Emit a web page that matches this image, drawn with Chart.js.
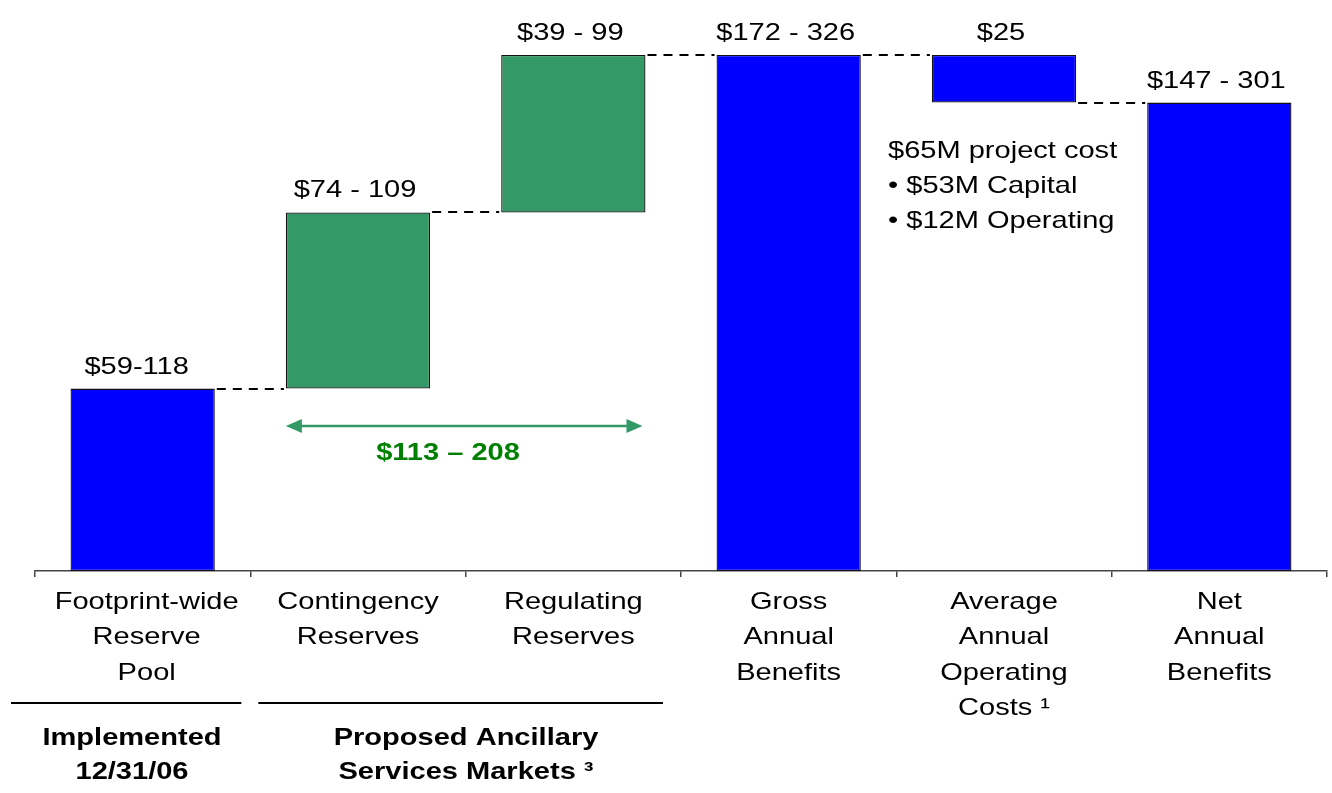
<!DOCTYPE html>
<html>
<head>
<meta charset="utf-8">
<script src="https://cdn.jsdelivr.net/npm/chart.js@4/dist/chart.umd.min.js"></script>
<style>
  html, body { margin: 0; padding: 0; background: #fff; }
  #wrap { width: 1332px; height: 793px; position: relative; }
</style>
</head>
<body>
<div id="wrap"><canvas id="chartBenefits"></canvas></div>
<script>
// ── DATA ─────────────────────────────────────
const categories = [
  ['Footprint-wide', 'Reserve', 'Pool'],
  ['Contingency', 'Reserves'],
  ['Regulating', 'Reserves'],
  ['Gross', 'Annual', 'Benefits'],
  ['Average', 'Annual', 'Operating', 'Costs \u00B9'],
  ['Net', 'Annual', 'Benefits']
];
const barStart = [0, 88, 173, 0, 226, 0];
const barEnd   = [88, 173, 249, 249, 249, 226];
const barLabels = ['$59-118', '$74 - 109', '$39 - 99', '$172 - 326', '$25', '$147 - 301'];
// level carried from each bar to the next one (dashed connectors)
const runningTotal = [88, 173, 249, 249, 226];
const groupLabels = [['Implemented', '12/31/06'], ['Proposed Ancillary', 'Services Markets \u00B3']];
const groupSpans = [[0, 0], [1, 2]];
const ancillaryRange = '$113 \u2013 208';
const costNotes = ['$65M project cost', '\u2022 $53M Capital', '\u2022 $12M Operating'];

const BLUE = '#0000ff';
const GREEN = '#339966';
const FONT = '"Liberation Sans", Arial, Helvetica, sans-serif';
const SX = 1.21; // source text is stretched horizontally

function stretchText(c, str, x, y, align) {
  c.save();
  c.translate(x, y);
  c.scale(SX, 1);
  c.textAlign = align || 'center';
  c.textBaseline = 'alphabetic';
  c.fillText(str, 0, 0);
  c.restore();
}

const annotations = {
  id: 'waterfall-extras',
  afterDatasetsDraw(chart) {
    const { ctx: c, scales: { x, y } } = chart;
    const bars = chart.getDatasetMeta(0).data;
    c.save();

    // dashed connectors
    c.strokeStyle = '#000';
    c.lineWidth = 2;
    c.setLineDash([9, 7]);
    runningTotal.forEach((v, i) => {
      const py = Math.round(y.getPixelForValue(v));
      c.beginPath();
      c.moveTo(bars[i].x + bars[i].width / 2 + 2, py);
      c.lineTo(bars[i + 1].x - bars[i + 1].width / 2 - 2, py);
      c.stroke();
    });
    c.setLineDash([]);

    // value labels above bars
    c.fillStyle = '#000';
    c.font = '24px ' + FONT;
    barLabels.forEach((t, i) => {
      const top = y.getPixelForValue(Math.max(barStart[i], barEnd[i]));
      stretchText(c, t, bars[i].x - (i === 0 ? 6 : 3), top - 15);
    });

    // category labels
    categories.forEach((lines, i) => {
      const cx = x.getPixelForValue(i) + (i === 0 ? 4 : 0);
      lines.forEach((t, k) => stretchText(c, t, cx, 609 + k * 35.3));
    });

    // group separators + labels
    const half = (x.getPixelForValue(1) - x.getPixelForValue(0)) / 2;
    c.lineWidth = 2;
    c.strokeStyle = '#000';
    groupSpans.forEach((g, i) => {
      const x1 = x.getPixelForValue(g[0]) - half + (i === 0 ? -24 : 8);
      const x2 = x.getPixelForValue(g[1]) + half - (i === 0 ? 9 : 18);
      c.beginPath();
      c.moveTo(x1, 703);
      c.lineTo(x2, 703);
      c.stroke();
      c.font = 'bold 24px ' + FONT;
      const cx = i === 0 ? 132 : 466;
      groupLabels[i].forEach((t, k) => stretchText(c, t, cx, 745 + k * 34));
    });

    // ancillary range arrow
    const ax1 = bars[1].x - bars[1].width / 2;
    const ax2 = bars[2].x + bars[2].width / 2 - 3;
    const ay = 426;
    c.strokeStyle = GREEN;
    c.fillStyle = GREEN;
    c.lineWidth = 2.5;
    c.beginPath();
    c.moveTo(ax1 + 8, ay);
    c.lineTo(ax2 - 8, ay);
    c.stroke();
    [[ax1, 1], [ax2, -1]].forEach(([px, d]) => {
      c.beginPath();
      c.moveTo(px, ay);
      c.lineTo(px + d * 16, ay - 7);
      c.lineTo(px + d * 16, ay + 7);
      c.closePath();
      c.fill();
    });
    c.fillStyle = '#008000';
    c.font = 'bold 24px ' + FONT;
    stretchText(c, ancillaryRange, 448, 460);

    // project cost note
    c.fillStyle = '#000';
    c.font = '24px ' + FONT;
    costNotes.forEach((t, k) => stretchText(c, t, 888, 158 + k * 35, 'left'));

    c.restore();
  }
};

new Chart(document.getElementById('chartBenefits'), {
  type: 'bar',
  data: {
    labels: categories,
    datasets: [{
      data: barStart.map((s, i) => [s, barEnd[i]]),
      backgroundColor: barStart.map((s, i) => (i === 1 || i === 2) ? GREEN : BLUE),
      borderColor: '#111',
      borderWidth: 1.3,
      borderSkipped: false,
      barPercentage: 0.67,
      categoryPercentage: 1
    }]
  },
  options: {
    responsive: true, maintainAspectRatio: false,
    animation: false,
    layout: { padding: { left: 35, right: 5, top: 0, bottom: 216 } },
    plugins: { legend: { display: false }, tooltip: { enabled: false } },
    scales: {
      x: {
        grid: { offset: true, drawOnChartArea: false, drawTicks: true, tickLength: 6, color: '#444', lineWidth: 1.5 },
        border: { display: true, color: '#444', width: 1.5 },
        ticks: { display: false }
      },
      y: { display: false, min: 0, max: 275.5 }
    }
  },
  plugins: [annotations]
});
</script>
</body>
</html>
